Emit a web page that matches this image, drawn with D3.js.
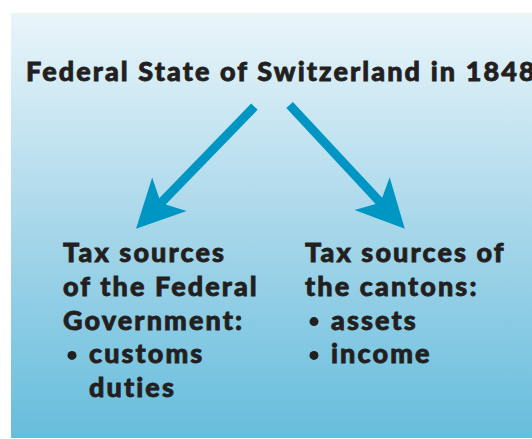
<!DOCTYPE html>
<html>
<head>
<meta charset="utf-8">
<script src="https://cdn.jsdelivr.net/npm/d3@7"></script>
<style>
  body { margin: 0; background: #fff; }
  text { font-family: Lato, "DejaVu Sans", sans-serif; font-weight: 900; fill: #231f20;
         stroke: #231f20; stroke-width: 0.8px; letter-spacing: 2.1px; }
</style>
</head>
<body>
<script>
const w = 532;
const h = 439;

// content of the diagram
const title = "Federal State of Switzerland in 1848";
const leftLines = ["Tax sources", "of the Federal", "Government:"];
const leftBullets = [["customs", "duties"]];
const rightLines = ["Tax sources of", "the cantons:"];
const rightBullets = [["assets"], ["income"]];

// arrows in a small grid: [startX, startY, endX, endY]
const arrows = [
  [4.2, 0.2, 0.5, 3.9],
  [5.3, 0.15, 8.9, 3.9]
];
const arrowColor = "#0096c4";

const x = d3.scaleLinear().domain([0, 10]).range([120, 440]);
const y = d3.scaleLinear().domain([0, 4]).range([100, 232]);

const svg = d3.select("body")
              .append("svg")
              .attr("width", w)
              .attr("height", h)

const defs = svg.append("defs")
const grad = defs.append("linearGradient")
                 .attr("id", "bg")
                 .attr("x1", 0).attr("y1", 0)
                 .attr("x2", 0).attr("y2", 1)
grad.append("stop").attr("offset", "0%").attr("stop-color", "#eaf5fa")
grad.append("stop").attr("offset", "50%").attr("stop-color", "#a8d7ea")
grad.append("stop").attr("offset", "100%").attr("stop-color", "#66bddc")

svg.append("rect")
   .attr("x", 11)
   .attr("y", 13)
   .attr("width", w - 11)
   .attr("height", 425)
   .attr("fill", "url(#bg)")

svg.append("text")
   .attr("x", 26)
   .attr("y", 81)
   .style("font-size", "27px")
   .text(title)

// arrows: shaft + head polygon
const shaft = 9, headLen = 48, headHalf = 24;
arrows.forEach(function(a) {
  const x0 = x(a[0]), y0 = y(a[1]), x1 = x(a[2]), y1 = y(a[3]);
  const len = Math.hypot(x1 - x0, y1 - y0);
  const ux = (x1 - x0) / len, uy = (y1 - y0) / len;
  const px = -uy, py = ux;
  const bx = x1 - ux * headLen, by = y1 - uy * headLen;
  const notch = x1 - ux * (headLen - 10), notchY = y1 - uy * (headLen - 10);
  const pts = [
    [x0 + px * shaft / 2, y0 + py * shaft / 2],
    [notch + px * shaft / 2, notchY + py * shaft / 2],
    [bx + px * headHalf, by + py * headHalf],
    [x1, y1],
    [bx - px * headHalf, by - py * headHalf],
    [notch - px * shaft / 2, notchY - py * shaft / 2],
    [x0 - px * shaft / 2, y0 - py * shaft / 2]
  ];
  svg.append("polygon")
     .attr("points", pts.map(p => p.join(",")).join(" "))
     .attr("fill", arrowColor)
})

const lineH = 33.8;
const fs = "27px";

function column(x0, lines, bullets) {
  let row = 0;
  const g = svg.append("g");
  lines.forEach(function(t) {
    g.append("text").attr("x", x0).attr("y", 262 + row * lineH).style("font-size", fs).text(t);
    row++;
  })
  bullets.forEach(function(b) {
    g.append("circle").attr("cx", x0 + 9).attr("cy", 262 + row * lineH - 8).attr("r", 4.5).attr("fill", "#231f20");
    b.forEach(function(t) {
      g.append("text").attr("x", x0 + 26).attr("y", 262 + row * lineH).style("font-size", fs).text(t);
      row++;
    })
  })
}

column(63, leftLines, leftBullets);
column(305, rightLines, rightBullets);
</script>
</body>
</html>
